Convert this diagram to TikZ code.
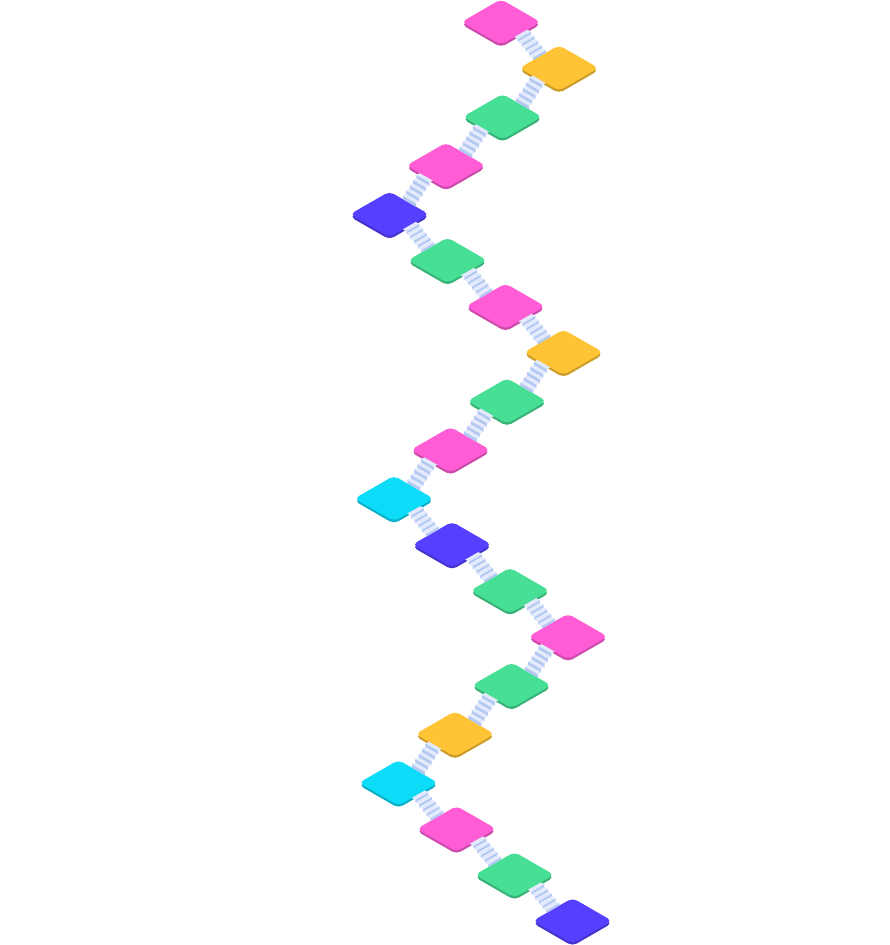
\documentclass[tikz,border=0pt]{standalone}
\usepackage{tikz}
\usetikzlibrary{shapes.geometric, positioning, calc, shadows}

\definecolor{tpink}{HTML}{FF5CD6}
\definecolor{tyellow}{HTML}{FFC436}
\definecolor{tgreen}{HTML}{47DE96}
\definecolor{tindigo}{HTML}{5540FF}
\definecolor{tcyan}{HTML}{0DDCF9}
\definecolor{treadblue}{HTML}{E2EAFC}
\definecolor{riserblue}{HTML}{B3C7F3}

% stairs from an edge of tile #1 (side #2) down to an edge of tile #3 (side #4)
\newcommand{\stairs}[4]{%
  \coordinate (sa) at ($(#1.south)!.5!(#1.#2)$);
  \coordinate (sb) at ($(#3.north)!.5!(#3.#4)$);
  \coordinate (sw) at ($($(#1.south)!7.5pt!(#1.#2)$)-(#1.south)$);
  \path let \p1=(sa), \p2=(sb) in
    coordinate (sd) at ({(\x2-\x1)/5}, {-abs(\x2-\x1)*0.573/5})
    coordinate (sv) at (0pt, {(\y2-\y1+abs(\x2-\x1)*0.573)/5});
  \foreach \k in {0,...,4} {
    \coordinate (sp) at ($(sa)+\k*(sd)+\k*(sv)$);
    \fill[tread] ($(sp)-(sw)$) -- ($(sp)+(sw)$) -- ($(sp)+(sw)+(sd)$) -- ($(sp)-(sw)+(sd)$) -- cycle;
    \fill[riser] ($(sp)-(sw)+(sd)$) -- ($(sp)+(sw)+(sd)$) -- ($(sp)+(sw)+(sd)+(sv)$) -- ($(sp)-(sw)+(sd)+(sv)$) -- cycle;
  }
}

\begin{document}
\begin{tikzpicture}[
    x=1pt, y=-1pt, on grid,
    tile/.style={diamond, aspect=1.74, minimum width=79pt, minimum height=45.5pt, inner sep=0pt, outer sep=0pt,
      rounded corners=5pt, fill=#1, general shadow={fill=#1!80!black, shadow yshift=-2.5pt}},
    tread/.style={fill=treadblue},
    riser/.style={fill=riserblue}
]
\useasboundingbox (0,0) rectangle (890,945);

\node[tile=tpink] (t1) at (501,22) {};
\node[tile=tyellow, below right=46pt and 58pt of t1] (t2) {};
\node[tile=tgreen, below left=48.75pt and 56.5pt of t2] (t3) {};
\node[tile=tpink, below left=48.75pt and 56.5pt of t3] (t4) {};
\node[tile=tindigo, below left=48.75pt and 56.5pt of t4] (t5) {};
\node[tile=tgreen, below right=46pt and 58pt of t5] (t6) {};
\node[tile=tpink, below right=46pt and 58pt of t6] (t7) {};
\node[tile=tyellow, below right=46pt and 58pt of t7] (t8) {};
\node[tile=tgreen, below left=48.75pt and 56.5pt of t8] (t9) {};
\node[tile=tpink, below left=48.75pt and 56.5pt of t9] (t10) {};
\node[tile=tcyan, below left=48.75pt and 56.5pt of t10] (t11) {};
\node[tile=tindigo, below right=46pt and 58pt of t11] (t12) {};
\node[tile=tgreen, below right=46pt and 58pt of t12] (t13) {};
\node[tile=tpink, below right=46pt and 58pt of t13] (t14) {};
\node[tile=tgreen, below left=48.75pt and 56.5pt of t14] (t15) {};
\node[tile=tyellow, below left=48.75pt and 56.5pt of t15] (t16) {};
\node[tile=tcyan, below left=48.75pt and 56.5pt of t16] (t17) {};
\node[tile=tpink, below right=46pt and 58pt of t17] (t18) {};
\node[tile=tgreen, below right=46pt and 58pt of t18] (t19) {};
\node[tile=tindigo, below right=46pt and 58pt of t19] (t20) {};

\foreach \i/\j/\a/\b in {1/2/east/west, 2/3/west/east, 3/4/west/east, 4/5/west/east,
    5/6/east/west, 6/7/east/west, 7/8/east/west, 8/9/west/east, 9/10/west/east,
    10/11/west/east, 11/12/east/west, 12/13/east/west, 13/14/east/west,
    14/15/west/east, 15/16/west/east, 16/17/west/east, 17/18/east/west,
    18/19/east/west, 19/20/east/west}
  \stairs{t\i}{\a}{t\j}{\b};

\end{tikzpicture}
\end{document}
